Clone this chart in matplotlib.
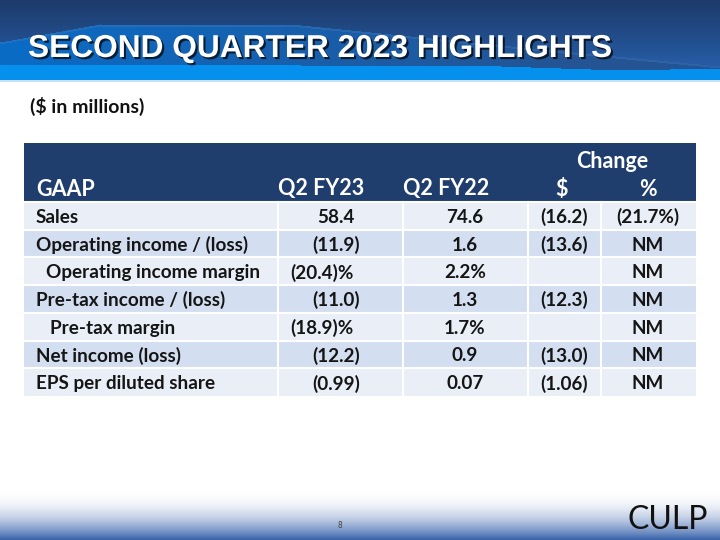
import numpy as np
import matplotlib
matplotlib.use('Agg')
import matplotlib.pyplot as plt
import matplotlib.patheffects as pe
from matplotlib.patches import Rectangle

# Data of the table
title = 'SECOND QUARTER 2023 HIGHLIGHTS'
subtitle = '($ in millions)'
col_headers = ['GAAP', 'Q2 FY23', 'Q2 FY22', '$', '%']
labels = ['Sales', 'Operating income / (loss)', 'Operating income margin',
          'Pre-tax income / (loss)', 'Pre-tax margin', 'Net income (loss)',
          'EPS per diluted share']
q2_fy23 = ['58.4', '(11.9)', '(20.4)%', '(11.0)', '(18.9)%', '(12.2)', '(0.99)']
q2_fy22 = ['74.6', '1.6', '2.2%', '1.3', '1.7%', '0.9', '0.07']
chg_dollar = ['(16.2)', '(13.6)', '', '(12.3)', '', '(13.0)', '(1.06)']
chg_pct = ['(21.7%)', 'NM', 'NM', 'NM', 'NM', 'NM', 'NM']

# layout (pixels)
W, H = 720, 540
tab_l, tab_r = 24, 696
head_top, head_bot = 143, 201
row_h = 27.7
dividers = [278, 403, 528, 601]
indent = [0, 0, 10, 0, 14, 0, 0]
col_x = [336, 465, 564, 648]
fnt = 'Lato'
navy = '#1f3e6d'

fig = plt.figure(figsize=(7.2, 5.4), dpi=100)
ax = fig.add_axes([0, 0, 1, 1])
ax.set_xlim(0, W)
ax.set_ylim(H, 0)
ax.axis('off')

#Banner in the top (background image)
hb = 80
yy, xx = np.mgrid[0:hb, 0:W].astype(float)
img = np.zeros((hb, W, 3))
bright = np.array([5, 144, 238]) / 255
img[:] = bright
top_c = np.array([29, 58, 106]) / 255
low_c = np.array([38, 92, 165]) / 255
t = np.clip(yy / 65, 0, 1)[..., None]
dark = top_c * (1 - t) + low_c * t
# lower border of dark region
xs = np.array([0, 300, 500, 620, 720])
ys = np.array([65, 65, 66, 70, 68])
lower = np.interp(xx, xs, ys)
mask_dark = yy < lower
img[mask_dark] = dark[mask_dark]
# medium blue swoosh on the left
xs2 = np.array([0, 100, 300, 500, 720])
ys2 = np.array([42, 24, 25, 45, 66])
upper = np.interp(xx, xs2, ys2)
mask_med = (yy >= upper) & mask_dark
s = np.clip(xx / 560, 0, 1)[..., None]
med_l = np.array([10, 108, 198]) / 255
med_r = np.array([36, 84, 148]) / 255
med = med_l * (1 - s) + med_r * s
img[mask_med] = med[mask_med]
# light edge on the swoosh
edge = mask_med & (yy < upper + 2)
img[edge] = img[edge] * 0.6 + 0.4 * np.array([60, 120, 190]) / 255
ax.imshow(img, extent=[0, W, hb, 0], aspect='auto', zorder=0, interpolation='bilinear')
ax.add_patch(Rectangle((0, hb), W, 1.5, color='#c5e2fa', lw=0, zorder=1))

ax.text(28, 49, title, fontsize=22.8, fontweight='bold', family='Liberation Sans',
        color='white', va='center', ha='left', zorder=3,
        path_effects=[pe.withSimplePatchShadow(offset=(1.5, -1.5), shadow_rgbFace='black', alpha=0.7)])

#Bottom gradient
fb = np.linspace(0, 1, 50)[:, None] ** 2.0
bot_c = np.array([58, 100, 172]) / 255
foot = np.ones((50, 1, 3)) * (1 - fb[..., None]) + bot_c * fb[..., None]
ax.imshow(foot, extent=[0, W, H, H - 50], aspect='auto', zorder=0)
ax.text(340, 525, '8', fontsize=5.5, color='#444444', ha='center', va='center', family='DejaVu Sans')
ax.text(708, 520, 'CULP', fontsize=23, color='#111111', ha='right', va='center',
        family=fnt, fontweight='normal')

ax.text(30, 106, subtitle, fontsize=14, fontweight='bold', family=fnt, color='#111111',
        va='center', ha='left')

#Table header
ax.add_patch(Rectangle((tab_l, head_top), tab_r - tab_l, head_bot - head_top,
                       color=navy, lw=0, zorder=1))
hy1, hy2 = 162, 189
hkw = dict(fontsize=15.5, fontweight='bold', family=fnt, color='white', va='center', zorder=3)
ax.text(612, hy1, 'Change', ha='center', **hkw)
ax.text(36, hy2, col_headers[0], ha='left', **hkw)
ax.text(321, hy2, col_headers[1], ha='center', **hkw)
ax.text(446, hy2, col_headers[2], ha='center', **hkw)
ax.text(562, hy2, col_headers[3], ha='center', **hkw)
ax.text(648, hy2, col_headers[4], ha='center', **hkw)

#Table body
bkw = dict(fontsize=13.6, fontweight='bold', family=fnt, color='#151515', va='center', zorder=3)
for i, lab in enumerate(labels):
    y0 = head_bot + 1 + i * row_h
    cor = '#e9eef7' if i % 2 == 0 else '#d3dff0'
    ax.add_patch(Rectangle((tab_l, y0), tab_r - tab_l, row_h, color=cor, lw=0, zorder=1))
    ax.plot([tab_l, tab_r], [y0, y0], color='white', lw=1.5, zorder=2)
    for d in dividers:
        ax.plot([d, d], [y0, y0 + row_h], color='white', lw=1.5, zorder=2)
    yc = y0 + row_h / 2 + 1.5
    ax.text(36 + indent[i], yc, lab, ha='left', **bkw)
    x23 = col_x[0] - 14 if q2_fy23[i].endswith('%') else col_x[0]
    ax.text(x23, yc, q2_fy23[i], ha='center', **bkw)
    ax.text(col_x[1], yc, q2_fy22[i], ha='center', **bkw)
    ax.text(col_x[2], yc, chg_dollar[i], ha='center', **bkw)
    ax.text(col_x[3], yc, chg_pct[i], ha='center', **bkw)

fig.savefig('out.png', dpi=100)
